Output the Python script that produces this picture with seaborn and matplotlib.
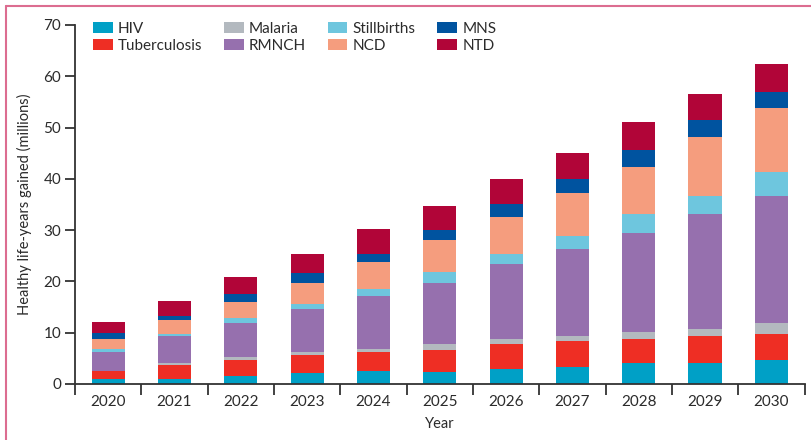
import numpy as np
import pandas as pd
import matplotlib
matplotlib.use("Agg")
import matplotlib.pyplot as plt
from matplotlib.patches import Patch
from matplotlib.lines import Line2D
import seaborn as sns

# data (millions of healthy life-years gained)
years = [2020, 2021, 2022, 2023, 2024, 2025, 2026, 2027, 2028, 2029, 2030]
causes = ["HIV", "Tuberculosis", "Malaria", "RMNCH", "Stillbirths", "NCD", "MNS", "NTD"]

hiv = [0.9, 0.9, 1.6, 2.1, 2.5, 2.4, 3.0, 3.4, 4.0, 4.0, 4.6]
tb = [1.6, 2.8, 3.0, 3.5, 3.7, 4.3, 4.7, 4.9, 4.7, 5.3, 5.2]
malaria = [0.1, 0.4, 0.6, 0.6, 0.6, 1.0, 1.0, 1.0, 1.5, 1.5, 2.0]
rmnch = [3.7, 5.3, 6.6, 8.4, 10.3, 11.9, 14.6, 17.1, 19.3, 22.4, 24.9]
stillbirths = [0.6, 0.4, 1.1, 1.0, 1.5, 2.2, 2.1, 2.5, 3.6, 3.5, 4.7]
ncd = [1.9, 2.6, 3.0, 4.0, 5.1, 6.2, 7.2, 8.4, 9.3, 11.5, 12.5]
mns = [1.2, 0.9, 1.6, 2.1, 1.6, 2.0, 2.5, 2.6, 3.3, 3.2, 3.1]
ntd = [2.1, 2.8, 3.3, 3.7, 4.9, 4.8, 4.9, 5.2, 5.3, 5.2, 5.3]

colors = ["#00a0c6", "#ee2e24", "#b3b9bf", "#9670ae",
          "#6ec6de", "#f59d7e", "#00539f", "#b10538"]

df = pd.DataFrame({"Year": years, "HIV": hiv, "Tuberculosis": tb, "Malaria": malaria,
                   "RMNCH": rmnch, "Stillbirths": stillbirths, "NCD": ncd,
                   "MNS": mns, "NTD": ntd})
cum = df[causes].cumsum(axis=1)

sns.set_style("ticks")
plt.rcParams["font.family"] = ["Lato", "DejaVu Sans"]

txt = "#2b2b2b"
fig = plt.figure(figsize=(8.11, 4.40), dpi=100)
ax = fig.add_axes([0.0925, 0.1273, 0.8995, 0.8159])

# stacked bars: draw cumulative totals from the top layer down
for cause, col in zip(causes[::-1], colors[::-1]):
    sns.barplot(x=df["Year"].astype(str), y=cum[cause], color=col, width=0.5,
                saturation=1, ax=ax, linewidth=0)

ax.set_xlim(-0.5, 10.5)
ax.set_ylim(0, 70)
ax.set_yticks(range(0, 71, 10))
ax.set_xticks(range(len(years)))
ax.set_xticklabels([str(y) for y in years])
ax.set_xticks(np.arange(-0.5, 10.6, 1), minor=True)
ax.tick_params(axis="x", which="major", length=0, pad=8, labelsize=11, colors=txt)
ax.tick_params(axis="x", which="minor", length=8, width=1.3, color="#333333")
ax.tick_params(axis="y", length=7, width=1.3, labelsize=11, color="#333333",
               labelcolor=txt, pad=3)
ax.set_xlabel("Year", fontsize=10.5, color=txt, labelpad=6)
ax.set_ylabel("Healthy life-years gained (millions)", fontsize=10.5, color=txt,
              labelpad=8)
for s in ["top", "right"]:
    ax.spines[s].set_visible(False)
for s in ["left", "bottom"]:
    ax.spines[s].set_linewidth(1.3)
    ax.spines[s].set_color("#333333")

handles = [Patch(facecolor=c, edgecolor="none", label=n) for n, c in zip(causes, colors)]
ax.legend(handles=handles, ncol=4, loc="upper left", bbox_to_anchor=(0.016, 1.025),
          frameon=False, fontsize=11, handlelength=1.3, handleheight=0.75,
          handletextpad=0.35, columnspacing=1.4, labelspacing=0.2, borderaxespad=0,
          labelcolor=txt)

# pink frame on top and left of the figure
fig.add_artist(Line2D([0.007, 1.0], [0.986, 0.986], transform=fig.transFigure,
                      color="#dc6d90", linewidth=1.5))
fig.add_artist(Line2D([0.007, 0.007], [0.0, 0.986], transform=fig.transFigure,
                      color="#dc6d90", linewidth=1.5))

fig.savefig("out.png", dpi=100)
